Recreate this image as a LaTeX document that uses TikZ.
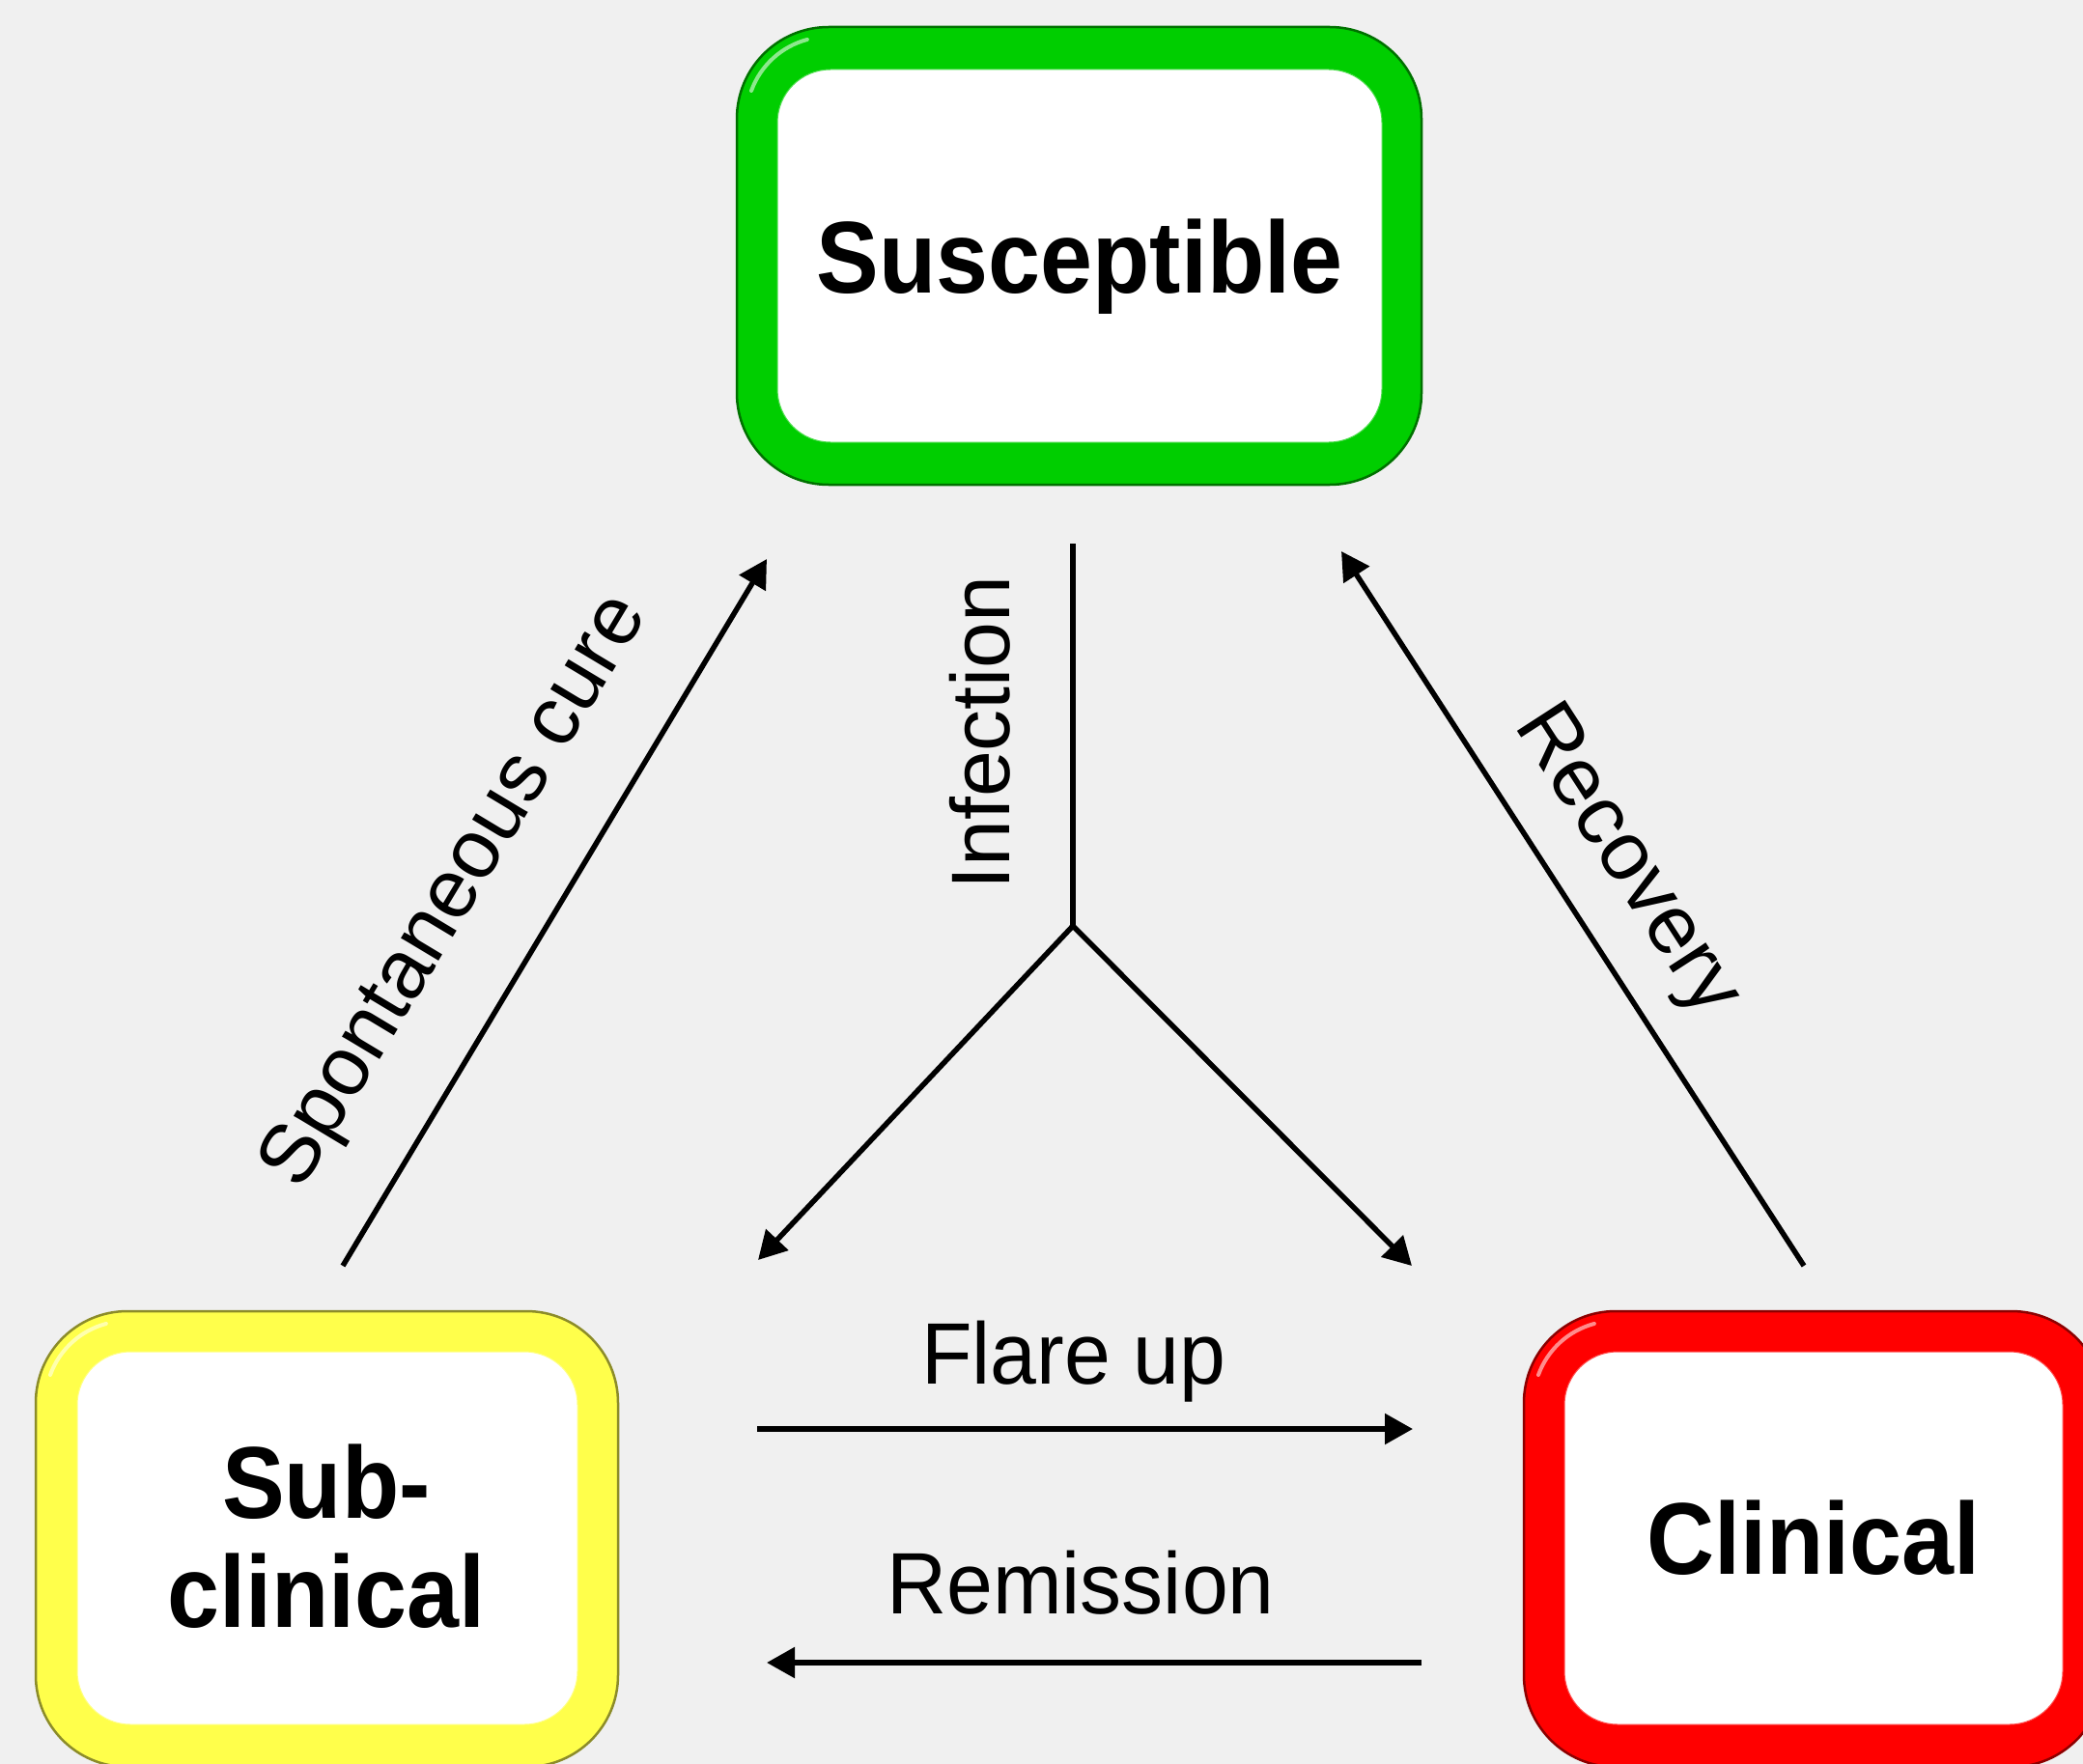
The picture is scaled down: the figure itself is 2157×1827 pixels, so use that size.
\documentclass[tikz,border=0pt]{standalone}
\usepackage{fontspec}
\usepackage{graphicx}
\setmainfont{Liberation Sans}
\usetikzlibrary{arrows.meta}
\definecolor{bgcol}{RGB}{240,240,240}
\definecolor{sgreen}{RGB}{0,206,0}
\definecolor{syellow}{RGB}{255,255,75}
\definecolor{sred}{RGB}{255,0,0}
\newcommand{\tallbold}[1]{\scalebox{1}[1.09]{#1}}
\newcommand{\tallreg}[1]{\scalebox{1}[1.05]{#1}}
\begin{document}
\begin{tikzpicture}[x=1pt,y=-1pt,
  outerbox/.style={rounded corners=95pt, inner sep=0pt, fill=#1, draw=#1!55!black, line width=2.5pt},
  innerbox/.style={rounded corners=55pt, inner sep=0pt, fill=white, draw=#1!70!white, line width=1pt},
  highlight/.style={white, opacity=0.55, line width=4pt, line cap=round},
  statetext/.style={font=\fontsize{97}{104}\selectfont\bfseries, inner sep=0pt, align=center},
  flowtext/.style={font=\fontsize{86}{100}\selectfont, inner sep=0pt},
  flow/.style={line width=5.5pt, -{Triangle[length=29pt,width=31pt]}},
  plainline/.style={line width=5.5pt}]
\path[use as bounding box, fill=bgcol] (0,0) rectangle (2157,1827);
\clip (0,0) rectangle (2157,1827);

% Susceptible
\node[outerbox=sgreen, minimum width=709pt, minimum height=474pt] (S) at (1117.5,265) {};
\node[innerbox=sgreen, minimum width=626pt, minimum height=386pt] (Sin) at (1118,265) {};
\draw[highlight] (778,94) arc[start angle=200, end angle=255, radius=85];
\node[statetext, anchor=base] (St) at (1118,303) {\tallbold{Susceptible}};

% Sub-clinical
\node[outerbox=syellow, minimum width=603pt, minimum height=472pt] (SC) at (338.5,1594) {};
\node[innerbox=syellow, minimum width=518pt, minimum height=386pt] (SCin) at (339,1593) {};
\draw[highlight] (52,1424) arc[start angle=200, end angle=255, radius=85];
\node[statetext] (SCt) at (338,1606) {\tallbold{\begin{tabular}{@{}c@{}}Sub-\\clinical\end{tabular}}};

% Clinical
\node[outerbox=sred, minimum width=600pt, minimum height=472pt] (C) at (1878,1594) {};
\node[innerbox=sred, minimum width=516pt, minimum height=386pt] (Cin) at (1878,1593) {};
\draw[highlight] (1593,1424) arc[start angle=200, end angle=255, radius=85];
\node[statetext, anchor=base] (Ct) at (1878,1630) {\tallbold{Clinical}};

% connector ends
\coordinate (scS) at (355,1311);
\coordinate (scE) at (794,579);
\coordinate (rcS) at (1868,1311);
\coordinate (rcE) at (1389,571);
\coordinate (infS) at (1111,563);
\coordinate (J) at (1111,959);
\coordinate (infL) at (785,1305);
\coordinate (infR) at (1462,1311);
\coordinate (fuS) at (784,1480);
\coordinate (fuE) at (1463,1480);
\coordinate (reS) at (1472,1722);
\coordinate (reE) at (794,1722);

\draw[flow] (scS) -- (scE);
\draw[flow] (rcS) -- (rcE);
\draw[plainline] (infS) -- (J);
\draw[flow] (J) -- (infL);
\draw[flow] (J) -- (infR);
\draw[flow] (fuS) -- (fuE);
\draw[flow] (reS) -- (reE);

% labels
\node[flowtext, rotate=59] (Lsc) at (473,924) {Spontaneous cure};
\node[flowtext, rotate=-57.1] (Lrc) at (1683,893) {Recovery};
\node[flowtext, rotate=90, anchor=base] (Lin) at (1045,759) {Infection};
\node[flowtext, anchor=base] (Lfu) at (1112,1433) {\tallreg{Flare up}};
\node[flowtext, anchor=base] (Lre) at (1119,1671) {\tallreg{Remission}};
\end{tikzpicture}
\end{document}
